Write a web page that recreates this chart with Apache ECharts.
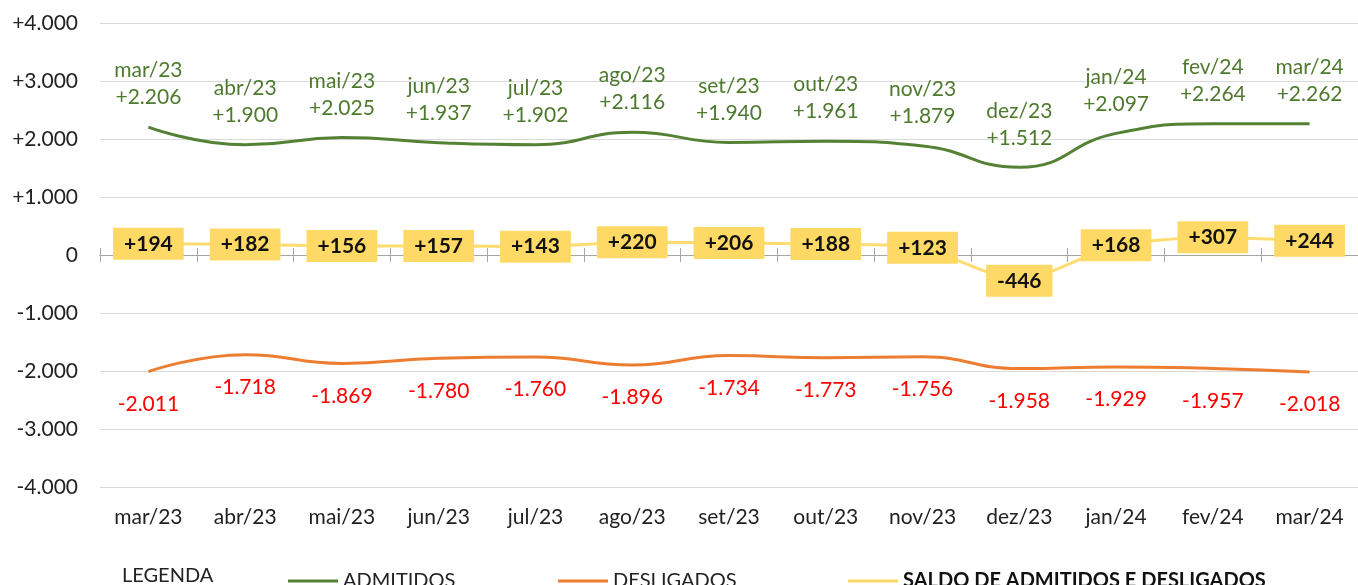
<!DOCTYPE html>
<html>
<head>
<meta charset="utf-8">
<script src="https://cdn.jsdelivr.net/npm/echarts@6/dist/echarts.min.js"></script>
<style>
  html, body { margin: 0; padding: 0; background: #fff; }
  #chart { width: 1358px; height: 585px; }
</style>
</head>
<body>
<div id="chart"></div>
<script>
// dados do gráfico
const meses = ['mar/23', 'abr/23', 'mai/23', 'jun/23', 'jul/23', 'ago/23', 'set/23', 'out/23', 'nov/23', 'dez/23', 'jan/24', 'fev/24', 'mar/24'];
const admitidos = [2206, 1900, 2025, 1937, 1902, 2116, 1940, 1961, 1879, 1512, 2097, 2264, 2262];
const desligados = [-2011, -1718, -1869, -1780, -1760, -1896, -1734, -1773, -1756, -1958, -1929, -1957, -2018];
const saldo = [194, 182, 156, 157, 143, 220, 206, 188, 123, -446, 168, 307, 244];

const FONT = 'Lato';

function fmt(v, sinal) {
    let s = String(Math.abs(v)).replace(/\B(?=(\d{3})+(?!\d))/g, '.');
    if (v < 0) return '-' + s;
    if (v > 0 && sinal) return '+' + s;
    return s;
}

let chart = echarts.init(document.getElementById('chart'));

let option = {
    animation: false,
    textStyle: { fontFamily: FONT },
    grid: { left: 100, right: 0, top: 23, bottom: 98 },
    xAxis: [
        {
            // rótulos de baixo
            type: 'category',
            data: meses,
            position: 'bottom',
            axisLine: { show: false, onZero: false },
            axisTick: { show: false },
            axisLabel: { margin: 20, fontSize: 21, color: '#222', fontFamily: FONT }
        },
        {
            // linha do zero, ticks para baixo
            type: 'category',
            data: meses,
            position: 'bottom',
            axisLine: { show: true, onZero: true, onZeroAxisIndex: 0, lineStyle: { color: '#a6a6a6', width: 1 } },
            axisTick: { show: true, length: 7, lineStyle: { color: '#a6a6a6' } },
            axisLabel: { show: false }
        },
        {
            // ticks para cima
            type: 'category',
            data: meses,
            position: 'top',
            axisLine: { show: true, onZero: true, onZeroAxisIndex: 1, lineStyle: { color: '#a6a6a6', width: 1 } },
            axisTick: { show: true, length: 7, lineStyle: { color: '#a6a6a6' } },
            axisLabel: { show: false }
        }
    ],
    yAxis: [
        {
            type: 'value',
            min: -4000,
            max: 4000,
            interval: 1000,
            axisLine: { show: false },
            axisTick: { show: false },
            splitLine: { lineStyle: { color: '#d9d9d9', width: 1 } },
            axisLabel: {
                margin: 22,
                fontSize: 21,
                color: '#222',
                fontFamily: FONT,
                formatter: v => fmt(v, true)
            }
        },
        {
            // eixo auxiliar só para apoiar a linha do zero
            type: 'value',
            min: -4000,
            max: 4000,
            interval: 1000,
            position: 'left',
            axisLine: { show: false },
            axisTick: { show: false },
            splitLine: { show: false },
            axisLabel: { show: false }
        }
    ],
    legend: [
        {
            data: ['ADMITIDOS'],
            left: 283, top: 566,
            itemWidth: 50, itemHeight: 3, icon: 'rect',
            textStyle: { fontSize: 20, color: '#222', fontFamily: FONT }
        },
        {
            data: ['DESLIGADOS'],
            left: 553, top: 566,
            itemWidth: 50, itemHeight: 3, icon: 'rect',
            textStyle: { fontSize: 20, color: '#222', fontFamily: FONT }
        },
        {
            data: ['SALDO DE ADMITIDOS E DESLIGADOS'],
            left: 843, top: 566,
            itemWidth: 50, itemHeight: 3, icon: 'rect',
            textStyle: { fontSize: 20, color: '#111', fontWeight: 'bold', fontFamily: FONT }
        }
    ],
    graphic: [
        {
            type: 'text',
            left: 122, top: 566,
            style: { text: 'LEGENDA', fontSize: 20, fill: '#222', fontFamily: FONT }
        }
    ],
    series: [
        {
            name: 'ADMITIDOS',
            type: 'line',
            data: admitidos,
            smooth: true,
            symbol: 'circle',
            symbolSize: 0.1,
            showSymbol: true,
            lineStyle: { color: '#548235', width: 3 },
            itemStyle: { color: '#548235' },
            label: {
                show: true,
                position: 'top',
                distance: 16,
                fontSize: 21,
                lineHeight: 27,
                color: '#4e7a2e',
                fontFamily: FONT,
                formatter: p => p.name + '\n' + fmt(p.value, true)
            }
        },
        {
            name: 'DESLIGADOS',
            type: 'line',
            data: desligados,
            smooth: true,
            symbol: 'circle',
            symbolSize: 0.1,
            showSymbol: true,
            lineStyle: { color: '#ed7d31', width: 3 },
            itemStyle: { color: '#ed7d31' },
            label: {
                show: true,
                position: 'bottom',
                distance: 22,
                fontSize: 21,
                color: '#ff0000',
                fontFamily: FONT,
                formatter: p => fmt(p.value, false)
            }
        },
        {
            name: 'SALDO DE ADMITIDOS E DESLIGADOS',
            type: 'line',
            data: saldo,
            smooth: 0.2,
            symbol: 'circle',
            symbolSize: 0.1,
            showSymbol: true,
            lineStyle: { color: '#ffdc6e', width: 3 },
            itemStyle: { color: '#ffd966' },
            z: 5,
            label: {
                show: true,
                position: 'inside',
                fontSize: 21,
                fontWeight: 'bold',
                color: '#111',
                fontFamily: FONT,
                backgroundColor: '#ffd966',
                padding: [6, 11, 5, 11],
                formatter: p => fmt(p.value, true)
            }
        }
    ]
};

chart.setOption(option);
</script>
</body>
</html>
